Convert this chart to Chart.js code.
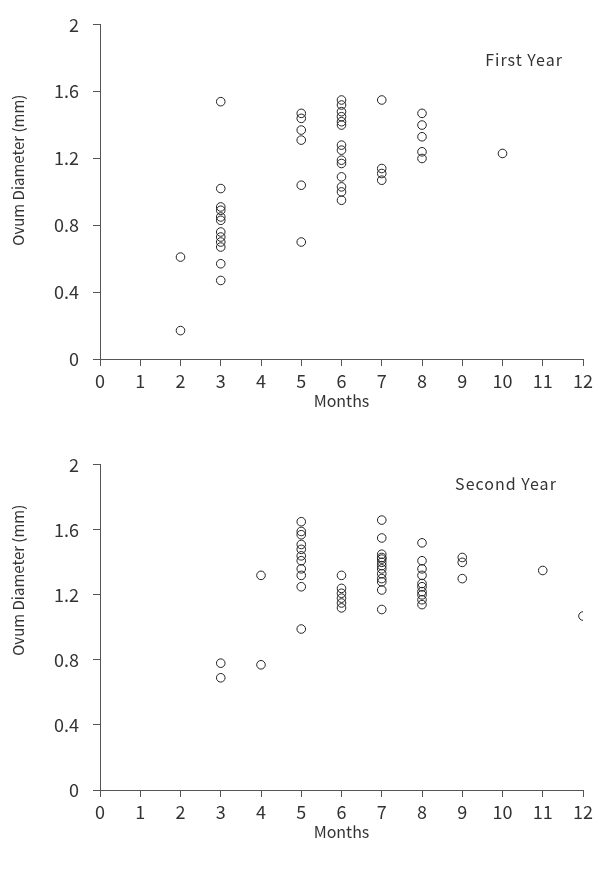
<!DOCTYPE html>
<html>
<head>
<meta charset="utf-8">
<script src="https://cdn.jsdelivr.net/npm/chart.js@4.4.0/dist/chart.umd.min.js"></script>
<style>
  html, body { margin: 0; padding: 0; background: #fff; }
  .box { position: relative; width: 599px; }
  #box1 { height: 440px; }
  #box2 { height: 430px; }
</style>
</head>
<body>
<div class="box" id="box1"><canvas id="firstYear"></canvas></div>
<div class="box" id="box2"><canvas id="secondYear"></canvas></div>
<script>
// tick labels
const monthTicks = [0, 1, 2, 3, 4, 5, 6, 7, 8, 9, 10, 11, 12];
const diameterTicks = [0, 0.4, 0.8, 1.2, 1.6, 2];

// first year - one list of ovum diameters (mm) per sampled month
const firstYearMonths = [2, 3, 5, 6, 7, 8, 10];
const firstYearDiameters = [
  [0.61, 0.17],
  [1.54, 1.02, 0.91, 0.89, 0.85, 0.83, 0.76, 0.73, 0.70, 0.67, 0.57, 0.47],
  [1.47, 1.44, 1.37, 1.31, 1.04, 0.70],
  [1.55, 1.52, 1.48, 1.45, 1.42, 1.40, 1.28, 1.25, 1.19, 1.17, 1.09, 1.03, 1.00, 0.95],
  [1.55, 1.14, 1.11, 1.07],
  [1.47, 1.40, 1.33, 1.24, 1.20],
  [1.23]
];

// second year
const secondYearMonths = [3, 4, 5, 6, 7, 8, 9, 11, 12];
const secondYearDiameters = [
  [0.78, 0.69],
  [1.32, 0.77],
  [1.65, 1.59, 1.57, 1.51, 1.48, 1.44, 1.41, 1.36, 1.32, 1.25, 0.99],
  [1.32, 1.24, 1.21, 1.18, 1.15, 1.12],
  [1.66, 1.55, 1.45, 1.43, 1.42, 1.40, 1.38, 1.36, 1.33, 1.30, 1.28, 1.23, 1.11],
  [1.52, 1.41, 1.36, 1.32, 1.27, 1.25, 1.22, 1.20, 1.17, 1.14],
  [1.43, 1.40, 1.30],
  [1.35],
  [1.07]
];

const textColor = "#333";
const axisColor = "#555";
const fontFamily = '"Noto Sans CJK JP", "DejaVu Sans", sans-serif';
Chart.defaults.font.family = fontFamily;
Chart.defaults.color = textColor;

// panel label + rotated y title
const notesPlugin = {
  id: "notes",
  afterDraw(chart, args, opts) {
    const { ctx, scales } = chart;
    ctx.save();
    ctx.fillStyle = textColor;
    ctx.textBaseline = "middle";
    ctx.font = "16px " + fontFamily;
    ctx.letterSpacing = "1px";
    ctx.textAlign = "right";
    ctx.fillText(opts.label, scales.x.getPixelForValue(opts.labelAt[0]), scales.y.getPixelForValue(opts.labelAt[1]));
    ctx.letterSpacing = "0px";
    ctx.font = "15px " + fontFamily;
    ctx.translate(opts.yTitleX, scales.y.getPixelForValue(opts.yTitleAt));
    ctx.rotate(-Math.PI / 2);
    ctx.textAlign = "center";
    ctx.fillText("Ovum Diameter (mm)", 0, 0);
    ctx.restore();
  }
};

function makeChart(id, months, diameters, notes, padTop, padBottom) {
  const points = months.flatMap((m, i) => diameters[i].map(d => ({ x: m, y: d })));
  return new Chart(document.getElementById(id), {
    type: "scatter",
    data: {
      datasets: [{
        data: points,
        pointStyle: "circle",
        pointRadius: 4.3,
        pointHoverRadius: 4.3,
        borderWidth: 1,
        borderColor: "#222",
        backgroundColor: "rgba(0,0,0,0)"
      }]
    },
    options: {
      responsive: true,
      maintainAspectRatio: false,
      animation: false,
      layout: { padding: { top: padTop, bottom: padBottom, left: 0, right: 16 } },
      plugins: {
        legend: { display: false },
        tooltip: { enabled: false },
        notes: notes
      },
      scales: {
        x: {
          type: "linear",
          min: 0,
          max: 12,
          afterBuildTicks: s => { s.ticks = monthTicks.map(v => ({ value: v })); },
          afterFit: s => { s.height = 66; },
          ticks: { font: { size: 18 }, padding: 4, color: textColor },
          grid: { drawOnChartArea: false, drawTicks: true, tickLength: 7, color: axisColor },
          border: { display: true, color: axisColor, width: 1 },
          title: { display: true, text: "Months", font: { size: 16 }, color: textColor, padding: { top: 0, bottom: 14 } }
        },
        y: {
          type: "linear",
          min: 0,
          max: 2,
          afterBuildTicks: s => { s.ticks = diameterTicks.map(v => ({ value: v })); },
          afterFit: s => { s.width = 100; },
          ticks: { font: { size: 18 }, padding: 14, color: textColor, callback: v => String(v) },
          grid: { drawOnChartArea: false, drawTicks: true, tickLength: 7, color: axisColor },
          border: { display: true, color: axisColor, width: 1 }
        }
      }
    },
    plugins: [notesPlugin]
  });
}

makeChart("firstYear", firstYearMonths, firstYearDiameters,
  { label: "First Year", labelAt: [11.5, 1.79], yTitleX: 18, yTitleAt: 1.13 }, 21, 15);
makeChart("secondYear", secondYearMonths, secondYearDiameters,
  { label: "Second Year", labelAt: [11.35, 1.88], yTitleX: 18, yTitleAt: 1.29 }, 23, 14);
</script>
</body>
</html>
